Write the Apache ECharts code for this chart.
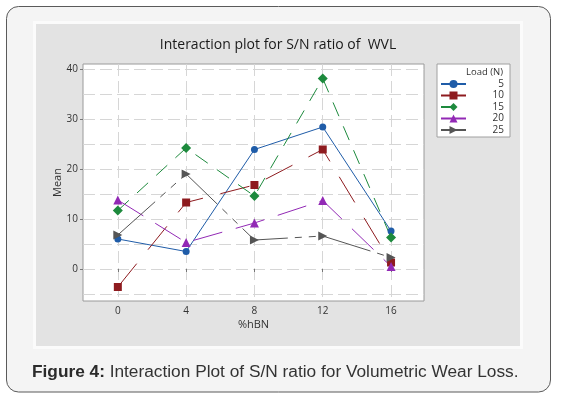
<!DOCTYPE html>
<html>
<head>
<meta charset="utf-8">
<script src="https://cdn.jsdelivr.net/npm/echarts@6/dist/echarts.min.js"></script>
<style>
html, body { margin: 0; padding: 0; background: #fff; }
#chart { width: 561px; height: 400px; }
</style>
</head>
<body>
<div id="chart"></div>
<script>
// %hBN levels on the x axis
var hbn = [0, 4, 8, 12, 16];
// mean S/N ratio per load (N)
var load5 = [6.0, 3.5, 23.9, 28.4, 7.6];
var load10 = [-3.6, 13.3, 16.8, 23.9, 1.3];
var load15 = [11.7, 24.2, 14.6, 38.1, 6.3];
var load20 = [13.8, 5.3, 9.2, 13.7, 0.5];
var load25 = [6.8, 19.0, 5.8, 6.6, 2.3];
var loadNames = ['5', '10', '15', '20', '25'];
// tick values
var xTicks = [0, 4, 8, 12, 16];
var yLabelTicks = [0, 10, 20, 30, 40];
var yGridTicks = [-5, 0, 5, 10, 15, 20, 25, 30, 35, 40];

function pairs(vals) {
    var out = [];
    for (var i = 0; i < hbn.length; i++) {
        out.push([hbn[i], vals[i]]);
    }
    return out;
}

function makeSeries(name, vals, color, symbol, size, dash) {
    return {
        name: name,
        type: 'line',
        data: pairs(vals),
        symbol: symbol,
        symbolSize: size,
        animation: false,
        itemStyle: { color: color },
        lineStyle: { color: color, width: 1, type: dash }
    };
}

var myChart = echarts.init(document.getElementById('chart'));

var option = {
    backgroundColor: '#fff',
    textStyle: { fontFamily: 'Open Sans' },
    graphic: [
        {
            type: 'rect', z: -10,
            shape: { x: 6.5, y: 6.5, width: 544, height: 385.5, r: 12 },
            style: { fill: '#f4f4f4', stroke: '#5a5a5a', lineWidth: 1 }
        },
        {
            type: 'rect', z: -9,
            shape: { x: 33, y: 21, width: 490, height: 328 },
            style: { fill: '#fbfbfb' }
        },
        {
            type: 'rect', z: -8,
            shape: { x: 36, y: 24, width: 484, height: 322 },
            style: { fill: '#e3e3e3' }
        },
        {
            type: 'text', z: 100,
            x: 503, y: 72,
            style: {
                text: 'Load (N)', fill: '#333', font: '9.5px "Open Sans"',
                textAlign: 'right', textVerticalAlign: 'middle'
            }
        }
    ],
    title: [
        {
            text: 'Interaction plot for S/N ratio of  WVL',
            left: 278, top: 38.5, textAlign: 'center', padding: 0,
            textStyle: { fontFamily: 'Open Sans', fontSize: 14, fontWeight: 'normal', color: '#1a1a1a' }
        },
        {
            text: '{b|Figure 4:} {n|Interaction Plot of S/N ratio for Volumetric Wear Loss.}',
            left: 32, top: 363, padding: 0,
            textStyle: {
                fontWeight: 'normal',
                rich: {
                    b: { fontFamily: 'Liberation Sans', fontSize: 17.3, fontWeight: 'bold', color: '#2b2b2b' },
                    n: { fontFamily: 'Liberation Sans', fontSize: 17.3, fontWeight: 'normal', color: '#333' }
                }
            }
        }
    ],
    legend: {
        orient: 'vertical',
        left: 437, top: 64,
        padding: [15, 6, 2, 3],
        backgroundColor: '#fff',
        borderColor: '#a0a0a0',
        borderWidth: 1,
        itemWidth: 25,
        itemHeight: 10,
        itemGap: 1.5,
        data: loadNames,
        formatter: function (name) { return '{r|' + name + '}'; },
        textStyle: {
            fontSize: 10, color: '#333', lineHeight: 10,
            rich: { r: { width: 33, align: 'right', fontSize: 10, fontFamily: 'Open Sans', color: '#333' } }
        }
    },
    grid: {
        left: 83, top: 64, width: 341, height: 237,
        show: true, backgroundColor: '#fff', borderColor: '#9a9a9a', borderWidth: 1
    },
    xAxis: {
        type: 'value',
        min: -2.04, max: 17.93,
        name: '%hBN', nameLocation: 'middle', nameGap: 18, nameMoveOverlap: false,
        nameTextStyle: { fontSize: 11, color: '#333' },
        axisLine: { show: false },
        axisTick: { show: true, length: 3, customValues: xTicks, lineStyle: { color: '#777' } },
        axisLabel: { customValues: xTicks, fontSize: 10, color: '#333', margin: 5 },
        splitLine: { show: true, lineStyle: { color: '#d6d6d6', type: [12, 5] } }
    },
    yAxis: [
        {
            type: 'value',
            min: -6.4, max: 41,
            position: 'left',
            axisLine: { show: false },
            axisTick: { show: false, customValues: yGridTicks },
            axisLabel: { show: false },
            splitLine: { show: true, lineStyle: { color: '#d6d6d6', type: [12, 5] } }
        },
        {
            type: 'value',
            min: -6.4, max: 41,
            position: 'left',
            name: 'Mean', nameLocation: 'middle', nameGap: 20, nameMoveOverlap: false,
            nameTextStyle: { fontSize: 11, color: '#333' },
            axisLine: { show: false },
            axisTick: { show: true, length: 3, customValues: yLabelTicks, lineStyle: { color: '#777' } },
            axisLabel: { customValues: yLabelTicks, fontSize: 10, color: '#333', margin: 5 },
            splitLine: { show: false }
        }
    ],
    series: [
        makeSeries(loadNames[0], load5, '#1f5ca8', 'circle', 7, 'solid'),
        makeSeries(loadNames[1], load10, '#8e1b1f', 'rect', 8, [30, 18]),
        makeSeries(loadNames[2], load15, '#1d8a3d', 'diamond', 10, [15, 11]),
        makeSeries(loadNames[3], load20, '#9229b5', 'triangle', 9, [30, 14]),
        makeSeries(loadNames[4], load25, '#555555', 'path://M0,0L10,5L0,10Z', 9, [50, 7, 7, 7, 7, 7])
    ]
};

myChart.setOption(option);
</script>
</body>
</html>
